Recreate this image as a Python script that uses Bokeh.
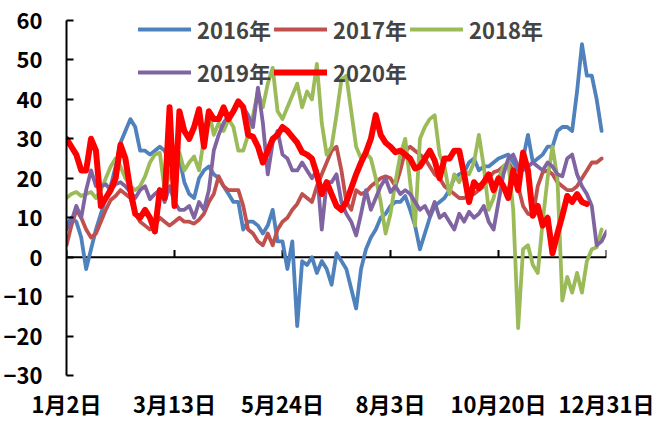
from bokeh.plotting import figure
from bokeh.models import Range1d, FixedTicker, Span, Legend, LegendItem
from bokeh.embed import file_html
from bokeh.resources import INLINE

nan = float("nan")

# category positions (index of observation) where the date labels sit
x_label_pos = [0, 22, 44, 66, 88, 110]
x_labels = ["1月2日", "3月13日", "5月24日", "8月3日", "10月20日", "12月31日"]
y_ticks = [-30, -20, -10, 0, 10, 20, 30, 40, 50, 60]

names = ["2016年", "2017年", "2018年", "2019年", "2020年"]

s2016 = [8, 10, 9, 5, -3, 2, 7, 11, 15, 18,
         23, 29, 32, 35, 33, 27, 27, 26, 27, 28,
         27, 24, 22, 25, 19, 16, 15, 20, 22, 23,
         21, 20, 18, 16, 14, 14, 7, 9, 9, 8,
         6, 8, 12, 4, 4, -3, 4, -17.5, -1, -2,
         0, -4, -1, -3, -7, 1, -1, -3, -8, -13,
         -3, 2, 5, 7, 10, 11, 13, 14, 14, 15.5,
         12, 8, 2, 6, 10, 13, 14, 15, 17, 20,
         21, 21.5, 24, 25, 22, 23, 23, 24, 25, 25.5,
         26, 24, 22, 25, 31, 24, 25, 26, 28, 28,
         32, 33, 33, 32, 42, 54, 46, 46, 40, 32,
         nan]

s2017 = [3, 8, 12, 10, 7, 5, 6, 9, 12, 14.5,
         15.5, 17, 16, 15, 11, 9, 8, 7, 8, 10,
         9, 8, 9, 10, 9, 9, 8.5, 9.5, 11, 14,
         16, 20.5, 18, 17, 17, 17, 13, 7, 6, 4,
         3, 6, 3, 7, 9, 10, 12, 13.5, 16, 15,
         14, 18, 21, 24, 27, 28, 22, 14, 12, 17,
         16, 16.5, 18, 19, 20, 20.5, 20, 18, 22, 27,
         28, 27, 26, 25, 23, 21, 20, 18, 17, 16,
         15, 15, 15.5, 16, 17, 18, 20, 21.5, 22, 23,
         24, 22, 18, 13, 11, 10.5, 18, 21.5, 22, 21,
         19, 18, 17, 17, 18, 20, 22, 24, 24, 25,
         nan]

s2018 = [15, 16, 16.5, 15.5, 16, 16.5, 15, 17, 20, 23,
         25, 23, 20, 18, 17, 18, 20.5, 24, 26, 26.5,
         17, 21, 24, 26.5, 22, 24, 25.5, 22, 30, 37,
         31, 34, 32, 35, 33, 27, 27, 31, 36, 42,
         38, 44, 48, 37, 35, 38, 41, 44, 38, 42,
         40, 49, 34, 26, 28, 36, 45, 46, 37, 28,
         25, 26.5, 25, 20, 14, 6, 11, 19, 26, 30,
         19, 8, 30, 33, 35, 36, 26, 23, 16, 21,
         19, 22, 21, 24, 31, 23, 12, 15, 20, 23,
         24, 12, -18, 2, 3, -2, -4, 9, 20, 28,
         20, -11, -5, -9, -4, -9, -1, 2, 2.5, 7,
         nan]

s2019 = [7, 9, 13, 10, 17, 22, 18, 18, 18.5, 17,
         18.5, 19, 18, 16.5, 15, 17, 18, 14.7, 16, 17,
         14, 18, 14, 12, 12, 13, 10, 14, 12, 17,
         27, 31, 34, 36, 37, 39, 38, 36, 33, 43,
         34, 21, 29, 32, 26, 25, 22, 22, 24, 22,
         20, 22, 7, 19, 19, 21, 14, 11, 9, 5.5,
         11, 17, 12, 15, 18, 20, 16.5, 18, 16, 17,
         16, 14, 12, 13, 10.5, 14, 10, 11, 9, 7,
         11, 9, 11.5, 10, 11, 13, 9, 7, 14, 21,
         25, 26, 23, 22, 23, 24, 23, 22, 24, 23,
         21, 20.5, 25, 26, 21, 18, 16, 13, 3, 4,
         6.5]

s2020 = [30, 28, 26, 22, 22, 30, 27, 13, 15, 17,
         20, 28.5, 25, 17, 11, 10, 12, 10, 6.5, 17,
         15, 38, 13, 37, 32, 30, 33, 37.5, 28, 37,
         35, 35, 38, 35, 37, 39.5, 38, 31, 30.5, 28,
         24, 27, 30, 31, 33, 32, 30.5, 29, 26.6, 26,
         25, 21, 16, 19, 16, 13, 12, 14, 17.5, 21,
         24, 26.6, 30, 36, 31, 29, 28, 26.6, 27, 26,
         25, 22.5, 23, 25, 27, 24.5, 20, 25, 25, 27,
         27, 21, 14, 19, 17.5, 19, 21, 17, 20, 18,
         15, 22, 17, 26.5, 22, 10.5, 13, 8, 10, 1,
         6, 10.5, 15.5, 14, 16, 14, 13.5, nan, nan, nan,
         nan]

series = [s2016, s2017, s2018, s2019, s2020]
colors = ["#4F81BD", "#C0504D", "#9BBB59", "#8064A2", "#FF0000"]
widths = [3.8, 3.8, 3.8, 3.8, 6]

FONT = "Noto Sans CJK SC"
FS = "22px"

p = figure(frame_width=540, frame_height=355,
           x_range=Range1d(0, 110), y_range=Range1d(-30, 60),
           output_backend="svg", toolbar_location=None,
           min_border_left=64, min_border_right=52, min_border_top=20, min_border_bottom=10)
p.outline_line_color = None
p.xgrid.visible = False
p.ygrid.visible = False
p.background_fill_color = "white"
p.border_fill_color = "white"

# zero line and its tick marks
p.add_layout(Span(location=0, dimension="width", line_color="black", line_width=2, level="underlay"))
p.segment(x0=x_label_pos, x1=x_label_pos, y0=[0] * len(x_label_pos), y1=[1.8] * len(x_label_pos),
          line_color="black", line_width=2, level="underlay")

xs = list(range(len(s2016)))
renderers = []
for s, c, w in zip(series, colors, widths):
    r = p.line(xs, s, line_color=c, line_width=w, line_join="round", line_cap="round")
    renderers.append(r)

# x axis (labels only)
xa = p.xaxis[0]
xa.ticker = FixedTicker(ticks=x_label_pos)
xa.major_label_overrides = {k: v for k, v in zip(x_label_pos, x_labels)}
xa.axis_line_color = None
xa.major_tick_line_color = None
xa.minor_tick_line_color = None
xa.major_label_standoff = 5
xa.major_label_text_font = FONT
xa.major_label_text_font_size = FS
xa.major_label_text_font_style = "bold"
xa.major_label_text_color = "black"

ya = p.yaxis[0]
ya.ticker = FixedTicker(ticks=y_ticks)
ya.axis_line_color = "black"
ya.axis_line_width = 2
ya.major_tick_line_color = "black"
ya.major_tick_line_width = 2
ya.major_tick_in = 7
ya.major_tick_out = 0
ya.minor_tick_line_color = None
ya.major_label_standoff = 24
ya.major_label_text_font = FONT
ya.major_label_text_font_size = FS
ya.major_label_text_font_style = "bold"
ya.major_label_text_color = "black"


def make_legend(items, loc):
    lg = Legend(items=items, location=loc, orientation="horizontal",
                glyph_width=53, glyph_height=24, label_standoff=6, spacing=3,
                padding=0, margin=0, border_line_color=None, background_fill_alpha=0,
                label_text_font=FONT, label_text_font_size=FS, label_text_font_style="bold",
                label_text_baseline="middle", label_height=24, label_width=74)
    return lg


leg1 = make_legend([LegendItem(label=names[i], renderers=[renderers[i]]) for i in range(3)], (72, 330))
leg2 = make_legend([LegendItem(label=names[i], renderers=[renderers[i]]) for i in range(3, 5)], (72, 287))
p.add_layout(leg1)
p.add_layout(leg2)

open("out.html", "w").write(file_html(p, INLINE))
